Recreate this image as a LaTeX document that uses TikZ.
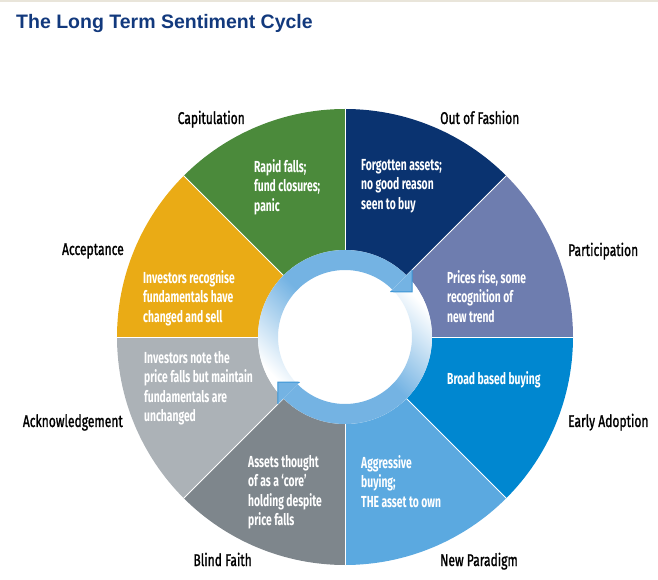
\documentclass[tikz,border=0pt]{standalone}
\usepackage{fontspec}
\setmainfont{Fira Sans}[FakeStretch=0.72]
\newfontfamily\stagefont{Fira Sans}[FakeStretch=0.71, FakeBold=1.2]
\newfontfamily\notefont{Fira Sans}[FakeStretch=0.645, BoldFont={* Bold}]
\newfontfamily\titlefont{Liberation Sans}

\definecolor{titleblue}{HTML}{12397D}
\definecolor{topbar}{HTML}{E9E5DA}
\definecolor{fashionblue}{HTML}{0A3370}
\definecolor{participationblue}{HTML}{6E7DAF}
\definecolor{adoptionblue}{HTML}{0087D0}
\definecolor{paradigmblue}{HTML}{5BA9E0}
\definecolor{faithgray}{HTML}{7E868C}
\definecolor{acknowledgegray}{HTML}{ACB2B7}
\definecolor{acceptanceyellow}{HTML}{EAAB15}
\definecolor{capitulationgreen}{HTML}{4B8A3B}
\definecolor{ringblue}{HTML}{74B3E3}
\definecolor{ringedge}{HTML}{3B95D6}

\begin{document}
\begin{tikzpicture}[x=1pt,y=1pt,
  stage/.style={font=\stagefont\fontsize{17}{20}\selectfont, text=black, inner sep=0pt},
  note/.style={font=\notefont\bfseries\fontsize{16}{19.5}\selectfont, text=white, align=left, anchor=north west, inner sep=0pt}]
\useasboundingbox (-345,-243) rectangle (313,337);
\fill[topbar] (-345,335) rectangle (313,337);
\node[font=\titlefont\bfseries\fontsize{19.5}{22}\selectfont, text=titleblue, anchor=base west, inner sep=0pt] (title) at (-329,308) {The Long Term Sentiment Cycle};

% wedges
\foreach \a/\c in {90/fashionblue,45/participationblue,0/adoptionblue,-45/paradigmblue,-90/faithgray,-135/acknowledgegray,180/acceptanceyellow,135/capitulationgreen}
  \fill[\c] (0,0) -- (\a:228pt) arc[start angle=\a, delta angle=-45, radius=228pt] -- cycle;
\foreach \a in {0,45,...,315}
  \draw[white, line width=0.8pt] (0,0) -- (\a:228pt);

% ring
\fill[white] (0,0) circle[radius=87pt];
\shade[top color=white, bottom color=ringblue, middle color=ringblue, shading angle=135]
  (225:67pt) arc[start angle=225, delta angle=-180, radius=67pt] -- (45:87pt)
  arc[start angle=45, delta angle=180, radius=87pt] -- cycle;
\shade[top color=white, bottom color=ringblue, middle color=ringblue, shading angle=-45]
  (45:67pt) arc[start angle=45, delta angle=-180, radius=67pt] -- (225:87pt)
  arc[start angle=225, delta angle=180, radius=87pt] -- cycle;
\fill[ringblue] (45:64pt) -- (67.2,45.2) -- (45:95pt) -- cycle;
\draw[ringedge, line width=1pt] (45:64pt) -- (67.2,45.2) -- (45:95pt);
\fill[ringblue] (225:64pt) -- (-67.2,-45.2) -- (225:95pt) -- cycle;
\draw[ringedge, line width=1pt] (225:64pt) -- (-67.2,-45.2) -- (225:95pt);

% stage names
\node[stage, anchor=base west] (outoffashion) at (95,213) {Out of Fashion};
\node[stage, anchor=base west] (participation) at (223,81) {Participation};
\node[stage, anchor=base west] (earlyadoption) at (223,-90) {Early Adoption};
\node[stage, anchor=base west] (newparadigm) at (95,-229) {New Paradigm};
\node[stage, anchor=base east] (blindfaith) at (-93,-229) {Blind Faith};
\node[stage, anchor=base east] (acknowledgement) at (-222,-90) {Acknowledgement};
\node[stage, anchor=base east] (acceptance) at (-221,82) {Acceptance};
\node[stage, anchor=base east] (capitulation) at (-100,213) {Capitulation};

% descriptions
\node[note] (fashiontext) at (16,178) {Forgotten assets;\\no good reason\\seen to buy};
\node[note] (participationtext) at (102,67) {Prices rise, some\\recognition of\\new trend};
\node[note] (adoptiontext) at (102,-34) {Broad based buying};
\node[note] (paradigmtext) at (16,-118) {Aggressive\\buying;\\THE asset to own};
\node[note] (faithtext) at (-97,-118) {Assets thought\\of as a ‘core’\\holding despite\\price falls};
\node[note] (acknowledgetext) at (-201,-14) {Investors note the\\price falls but maintain\\fundamentals are\\unchanged};
\node[note] (acceptancetext) at (-202,67) {Investors recognise\\fundamentals have\\changed and sell};
\node[note] (capitulationtext) at (-91,178) {Rapid falls;\\fund closures;\\panic};
\end{tikzpicture}
\end{document}
